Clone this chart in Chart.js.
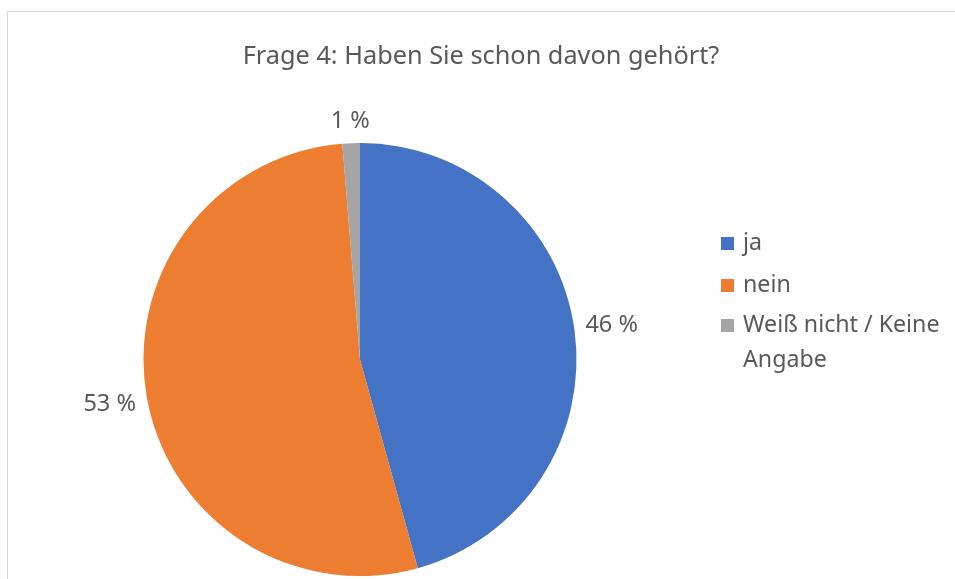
<!DOCTYPE html>
<html>
<head>
<meta charset="utf-8">
<script src="https://cdn.jsdelivr.net/npm/chart.js@4"></script>
<style>
html, body { margin: 0; padding: 0; background: #fff; }
#wrap { position: absolute; left: 0; top: 0; width: 955px; height: 579px; }
#frame { position: absolute; left: 7px; top: 11px; width: 960px; height: 600px; border-top: 1px solid #d9d9d9; border-left: 1px solid #d9d9d9; }
canvas { position: absolute; left: 0; top: 0; }
</style>
</head>
<body>
<div id="wrap">
<div id="frame"></div>
<canvas id="myChart" width="955" height="579"></canvas>
</div>
<script>
// data (share in percent)
const labels = ['ja', 'nein', 'Weiß nicht / Keine Angabe'];
const legendLines = [['ja'], ['nein'], ['Weiß nicht / Keine', 'Angabe']];
const values = [45.7, 53.0, 1.3];
const colors = ['#4472C4', '#ED7D31', '#A5A5A5'];
const title = 'Frage 4: Haben Sie schon davon gehört?';

const textColor = '#595959';
const font = '"Noto Sans", "Open Sans", sans-serif';

// draws title, outside labels and legend
const extras = {
    id: 'extras',
    afterDraw(chart) {
        const ctx = chart.ctx;
        ctx.save();
        ctx.fillStyle = textColor;

        // title
        ctx.font = '25.3px ' + font;
        ctx.textAlign = 'center';
        ctx.textBaseline = 'middle';
        ctx.fillText(title, 481, 57);

        // percentage labels outside the slices
        ctx.font = '23.5px ' + font;
        const meta = chart.getDatasetMeta(0);
        const total = values.reduce((a, b) => a + b, 0);
        meta.data.forEach((arc, i) => {
            const mid = (arc.startAngle + arc.endAngle) / 2;
            const dx = Math.cos(mid), dy = Math.sin(mid);
            const txt = Math.round(values[i] / total * 100) + ' %';
            const halfW = ctx.measureText(txt).width / 2;
            const halfH = 11;
            const dist = arc.outerRadius + 10 + Math.abs(dx) * halfW + Math.abs(dy) * halfH;
            ctx.fillText(txt, arc.x + dx * dist, arc.y + dy * dist);
        });

        // legend
        ctx.font = '23.2px ' + font;
        ctx.textAlign = 'left';
        const rows = [243, 285, 325];
        legendLines.forEach((lines, i) => {
            ctx.fillStyle = colors[i];
            ctx.fillRect(721, rows[i] - 6, 13, 13);
            ctx.fillStyle = textColor;
            lines.forEach((ln, j) => {
                ctx.fillText(ln, 743, rows[i] + j * 35);
            });
        });
        ctx.restore();
    }
};

const data = {
    labels: labels,
    datasets: [{
        data: values,
        backgroundColor: colors,
        borderWidth: 0
    }]
};

const config = {
    type: 'pie',
    data: data,
    options: {
        responsive: false,
        animation: false,
        layout: { padding: { top: 143, bottom: 3, left: 143, right: 378 } },
        plugins: {
            legend: { display: false },
            tooltip: { enabled: false }
        }
    },
    plugins: [extras]
};

const myChart = new Chart(document.getElementById('myChart'), config);
</script>
</body>
</html>
